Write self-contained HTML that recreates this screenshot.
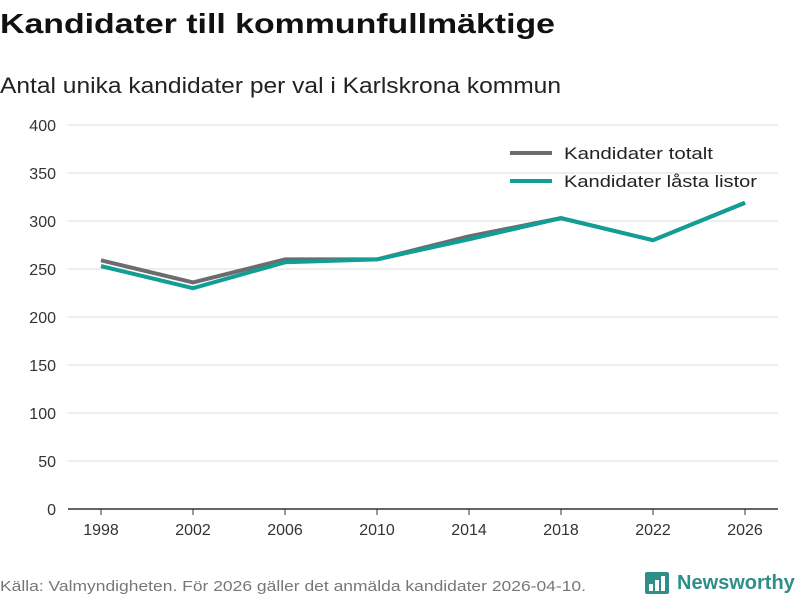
<!DOCTYPE html>
<html><head><meta charset="utf-8"><style>
body{margin:0;width:800px;height:600px;background:#fff;font-family:"Liberation Sans","DejaVu Sans",sans-serif;overflow:hidden}
</style></head><body>
<svg width="800" height="600" xmlns="http://www.w3.org/2000/svg">
<text x="0" y="33" font-size="28" font-weight="bold" fill="#111" textLength="555" lengthAdjust="spacingAndGlyphs">Kandidater till kommunfullmäktige</text>
<text x="0" y="93" font-size="22" fill="#222" textLength="561" lengthAdjust="spacingAndGlyphs">Antal unika kandidater per val i Karlskrona kommun</text>
<g id="grid"></g>
<g id="lines"></g>
<g>
<line x1="510" y1="153" x2="552" y2="153" stroke="#6b6b70" stroke-width="4"/>
<text x="564" y="159" font-size="17" fill="#222" textLength="149" lengthAdjust="spacingAndGlyphs">Kandidater totalt</text>
<line x1="510" y1="181" x2="552" y2="181" stroke="#109e95" stroke-width="4"/>
<text x="564" y="187" font-size="17" fill="#222" textLength="193" lengthAdjust="spacingAndGlyphs">Kandidater låsta listor</text>
</g>
<text x="0" y="591" font-size="15" fill="#777" textLength="586" lengthAdjust="spacingAndGlyphs">Källa: Valmyndigheten. För 2026 gäller det anmälda kandidater 2026-04-10.</text>
<g>
<rect x="645" y="572" width="24" height="22" rx="2" fill="#2e8f88"/>
<rect x="649" y="584" width="4" height="7" fill="#fff"/><rect x="655" y="580" width="4" height="11" fill="#fff"/><rect x="661" y="576" width="4" height="15" fill="#fff"/>
<text x="677" y="589" font-size="20" font-weight="bold" fill="#2e8f88">Newsworthy</text>
</g>
</svg>
<script>
const years=[1998,2002,2006,2010,2014,2018,2022,2026];
const totalt=[259,236,260,260,284,303,280,319];
const lasta=[253,230,257,260,281,303,280,319];
const yTicks=[0,50,100,150,200,250,300,350,400];
const ns="http://www.w3.org/2000/svg";
function xs(y){return 101+(y-1998)*(644/28);}
function ys(v){return 509-v*0.96;}
const grid=document.getElementById('grid');
yTicks.forEach(t=>{
 const l=document.createElementNS(ns,'line');
 l.setAttribute('x1',68);l.setAttribute('x2',778);l.setAttribute('y1',ys(t));l.setAttribute('y2',ys(t));
 l.setAttribute('stroke',t===0?'#333':'#ddd');l.setAttribute('stroke-width',t===0?1.5:1);
 
 
 grid.appendChild(l);
 const tx=document.createElementNS(ns,'text');
 tx.setAttribute('x',56);tx.setAttribute('y',ys(t)+6);tx.setAttribute('text-anchor','end');tx.setAttribute('font-size','16');tx.setAttribute('fill','#333');
 tx.textContent=t;
 
 
 grid.appendChild(tx);
});
years.forEach(y=>{
 const l=document.createElementNS(ns,'line');
 l.setAttribute('x1',xs(y));l.setAttribute('x2',xs(y));l.setAttribute('y1',509);l.setAttribute('y2',515);l.setAttribute('stroke','#333');
 
 
 grid.appendChild(l);
 const tx=document.createElementNS(ns,'text');
 tx.setAttribute('x',xs(y));tx.setAttribute('y',535);tx.setAttribute('text-anchor','middle');tx.setAttribute('font-size','16');tx.setAttribute('fill','#333');
 tx.textContent=y;
 
 
 grid.appendChild(tx);
});
const lines=document.getElementById('lines');
[[totalt,'#6b6b70','line-totalt'],[lasta,'#109e95','line-lasta']].forEach(([d,c,n])=>{
 const p=document.createElementNS(ns,'polyline');
 p.setAttribute('points',d.map((v,i)=>xs(years[i])+','+ys(v)).join(' '));
 p.setAttribute('fill','none');p.setAttribute('stroke',c);p.setAttribute('stroke-width',4);p.setAttribute('stroke-linejoin','round');
 
 
 lines.appendChild(p);
});
</script>
</body></html>
